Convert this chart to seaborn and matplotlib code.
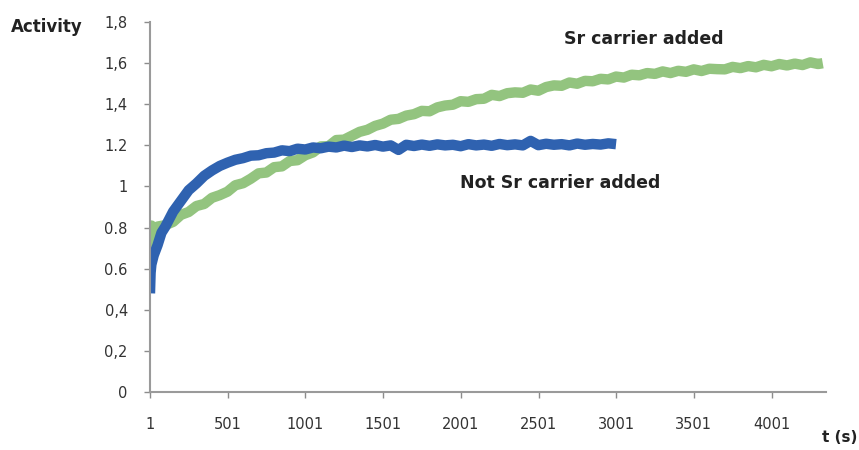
import matplotlib
matplotlib.use("Agg")
import matplotlib.pyplot as plt
import seaborn as sns

# Time grid (s) and activity
t_sr = [1, 10, 25] + list(range(50, 4301, 50)) + [4330]
act_sr = [0.70, 0.81, 0.78,
          0.805, 0.812, 0.828, 0.862, 0.876, 0.905, 0.915, 0.945, 0.958, 0.975,
          1.006, 1.016, 1.038, 1.064, 1.068, 1.094, 1.098, 1.124, 1.128, 1.152,
          1.166, 1.195, 1.196, 1.226, 1.228, 1.247, 1.266, 1.276, 1.295, 1.306,
          1.325, 1.329, 1.345, 1.352, 1.368, 1.366, 1.385, 1.394, 1.398, 1.415,
          1.412, 1.425, 1.427, 1.446, 1.440, 1.454, 1.458, 1.456, 1.472, 1.466,
          1.484, 1.492, 1.490, 1.506, 1.500, 1.514, 1.512, 1.524, 1.521, 1.535,
          1.530, 1.544, 1.541, 1.552, 1.548, 1.560, 1.552, 1.563, 1.558, 1.570,
          1.562, 1.573, 1.571, 1.570, 1.582, 1.576, 1.586, 1.580, 1.592, 1.585,
          1.596, 1.589, 1.598, 1.591, 1.604, 1.596, 1.600]

t_no = [1, 5, 10, 25, 50, 75, 100] + list(range(150, 3001, 50))
act_no = [0.48, 0.58, 0.62, 0.665, 0.715, 0.775, 0.805,
          0.878, 0.930, 0.982, 1.015, 1.052, 1.078, 1.100, 1.116, 1.130, 1.138,
          1.150, 1.152, 1.162, 1.165, 1.176, 1.172, 1.184, 1.180,
          1.190, 1.186, 1.194, 1.190, 1.199, 1.192, 1.200, 1.195, 1.202, 1.194,
          1.200, 1.178, 1.203, 1.197, 1.204, 1.198, 1.205, 1.200, 1.203, 1.196,
          1.206, 1.200, 1.204, 1.198, 1.207, 1.201, 1.205, 1.200, 1.222, 1.201,
          1.208, 1.203, 1.206, 1.200, 1.209, 1.203, 1.207, 1.204, 1.210, 1.206]

x_ticks = [1, 501, 1001, 1501, 2001, 2501, 3001, 3501, 4001]
y_ticks = [0, 0.2, 0.4, 0.6, 0.8, 1.0, 1.2, 1.4, 1.6, 1.8]
y_labels = ['0', '0,2', '0,4', '0.6', '0.8', '1', '1.2', '1,4', '1,6', '1,8']

sns.set_style("ticks")
plt.rcParams['font.family'] = ['DejaVu Sans']

fig = plt.figure(figsize=(8.59, 4.5), dpi=100)
ax = fig.add_axes([0.1746, 0.1289, 0.787, 0.822])

sns.lineplot(x=t_sr, y=act_sr, ax=ax, color='#93C47F', linewidth=7.5,
             solid_capstyle='butt')
sns.lineplot(x=t_no, y=act_no, ax=ax, color='#2F62B0', linewidth=7.5,
             solid_capstyle='butt')

ax.set_xlim(1, 4351)
ax.set_ylim(0, 1.8)
ax.set_xticks(x_ticks)
ax.set_xticklabels([str(v) for v in x_ticks])
ax.set_yticks(y_ticks)
ax.set_yticklabels(y_labels)
ax.tick_params(axis='both', labelsize=10.5, colors='#8C8C8C', labelcolor='#333333',
               length=4, width=1)
ax.tick_params(axis='x', pad=14)
ax.tick_params(axis='y', pad=12)
for s in ['top', 'right']:
    ax.spines[s].set_visible(False)
for s in ['left', 'bottom']:
    ax.spines[s].set_color('#9A9A9A')
    ax.spines[s].set_linewidth(1.5)
ax.set_xlabel('')
ax.set_ylabel('')

ax.text(3180, 1.72, 'Sr carrier added', ha='center', va='center',
        fontsize=12.5, fontweight='bold', color='#222222')
ax.text(2640, 1.017, 'Not Sr carrier added', ha='center', va='center',
        fontsize=12.5, fontweight='bold', color='#222222')
fig.text(0.055, 0.94, 'Activity', ha='center', va='center',
         fontsize=12, fontweight='bold', color='#222222')
fig.text(0.978, 0.027, 't (s)', ha='center', va='center',
         fontsize=11, fontweight='bold', color='#222222')

fig.savefig('out.png', dpi=100)
